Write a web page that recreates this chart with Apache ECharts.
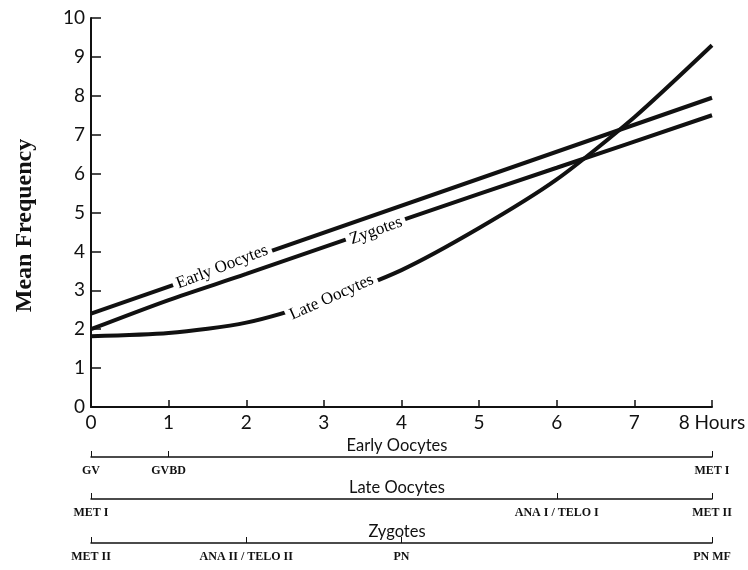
<!DOCTYPE html>
<html>
<head>
<meta charset="utf-8">
<script src="https://cdn.jsdelivr.net/npm/echarts@6/dist/echarts.min.js"></script>
<style>
  html, body { margin: 0; padding: 0; background: #fff; }
  #chart { width: 748px; height: 570px; }
</style>
</head>
<body>
<div id="chart"></div>
<script>
// curves: [hour, mean frequency]
const earlyOocytes = [[0, 2.4], [8, 7.95]];
const zygotes = [[0, 2.0], [1, 2.75], [2, 3.42], [4, 4.8], [6, 6.15], [8, 7.5]];
const lateOocytes = [
  [0, 1.82], [1, 1.9], [2, 2.17], [3, 2.75], [4, 3.52],
  [5, 4.6], [6, 5.85], [7, 7.45], [8, 9.3]
];

// in-line curve labels: [hour, value, text]
const curveLabels = [
  [1.69, 3.6, 'Early Oocytes'],
  [3.67, 4.53, 'Zygotes'],
  [3.1, 2.82, 'Late Oocytes']
];
const labelAngles = [21, 20, 24];

// stage timelines under the chart: [hour, stage]
const earlyStages = [[0, 'GV'], [1, 'GVBD'], [8, 'MET I']];
const lateStages = [[0, 'MET I'], [6, 'ANA I / TELO I'], [8, 'MET II']];
const zygoteStages = [[0, 'MET II'], [2, 'ANA II / TELO II'], [4, 'PN'], [8, 'PN MF']];
const timelineNames = ['Early Oocytes', 'Late Oocytes', 'Zygotes'];

const SANS = 'Lato, "Open Sans", sans-serif';
const SERIF = '"Liberation Serif", "DejaVu Serif", serif';
const INK = '#111';

const chart = echarts.init(document.getElementById('chart'));

const timelines = [earlyStages, lateStages, zygoteStages];
const lineTops = [457, 499, 543];

const grids = [{ left: 91, right: 36, top: 18, bottom: 163, outerBoundsMode: 'none' }];
const xAxes = [{
  type: 'value',
  gridIndex: 0,
  min: 0,
  max: 8,
  interval: 1,
  axisLine: { lineStyle: { color: INK, width: 2 } },
  axisTick: { inside: true, length: 7, lineStyle: { color: INK, width: 1.5 } },
  axisLabel: {
    fontFamily: SANS, fontSize: 19, color: INK, margin: 6,
    formatter: v => (v === 8 ? '8 Hours' : String(v))
  },
  splitLine: { show: false }
}];
const yAxes = [{
  type: 'value',
  gridIndex: 0,
  min: 0,
  max: 10,
  interval: 1,
  name: 'Mean Frequency',
  nameLocation: 'middle',
  nameGap: 54,
  nameTextStyle: {
    fontFamily: SERIF, fontSize: 24, fontWeight: 'bold', color: INK,
    padding: [0, 26, 0, 0]
  },
  axisLine: { lineStyle: { color: INK, width: 2 } },
  axisTick: { inside: true, length: 10, lineStyle: { color: INK, width: 1.5 } },
  axisLabel: { fontFamily: SANS, fontSize: 19, color: INK, margin: 6 },
  splitLine: { show: false }
}];

timelines.forEach((stages, i) => {
  const idx = i + 1;
  grids.push({ left: 91, right: 36, top: lineTops[i] - 1, height: 1, outerBoundsMode: 'none' });
  const names = new Map(stages.map(s => [s[0], s[1]]));
  xAxes.push({
    type: 'value',
    gridIndex: idx,
    min: 0,
    max: 8,
    axisLine: { lineStyle: { color: INK, width: 1.5 } },
    axisTick: {
      inside: true,
      length: 6,
      customValues: stages.map(s => s[0]),
      lineStyle: { color: INK, width: 1 }
    },
    axisLabel: {
      customValues: stages.map(s => s[0]),
      formatter: v => names.get(v) || '',
      fontFamily: SERIF,
      fontSize: 12,
      fontWeight: 'bold',
      color: INK,
      margin: 8
    },
    splitLine: { show: false }
  });
  yAxes.push({ type: 'value', gridIndex: idx, show: false, min: 0, max: 1 });
});

const curve = (name, data, smooth) => ({
  name,
  type: 'line',
  xAxisIndex: 0,
  yAxisIndex: 0,
  data,
  smooth,
  symbol: 'none',
  lineStyle: { color: INK, width: 4 },
  z: 2
});

chart.setOption({
  animation: false,
  backgroundColor: '#fff',
  title: timelineNames.map((t, i) => ({
    text: t,
    left: 392,
    top: lineTops[i] - 25,
    textAlign: 'center',
    textStyle: { fontFamily: SANS, fontSize: 16.5, fontWeight: 'normal', color: INK }
  })),
  grid: grids,
  xAxis: xAxes,
  yAxis: yAxes,
  series: [
    curve('Early Oocytes', earlyOocytes, false),
    curve('Zygotes', zygotes, 0.3),
    curve('Late Oocytes', lateOocytes, 0.25),
    {
      type: 'scatter',
      xAxisIndex: 0,
      yAxisIndex: 0,
      symbolSize: 0,
      silent: true,
      z: 5,
      itemStyle: { opacity: 1 },
      data: curveLabels.map((l, i) => ({
        value: [l[0], l[1]],
        name: l[2],
        label: { rotate: labelAngles[i] }
      })),
      label: {
        show: true,
        position: 'inside',
        formatter: p => p.name,
        fontFamily: SERIF,
        fontSize: 17,
        color: '#000',
        backgroundColor: '#fff',
        padding: [0, 4]
      }
    }
  ]
});
</script>
</body>
</html>
